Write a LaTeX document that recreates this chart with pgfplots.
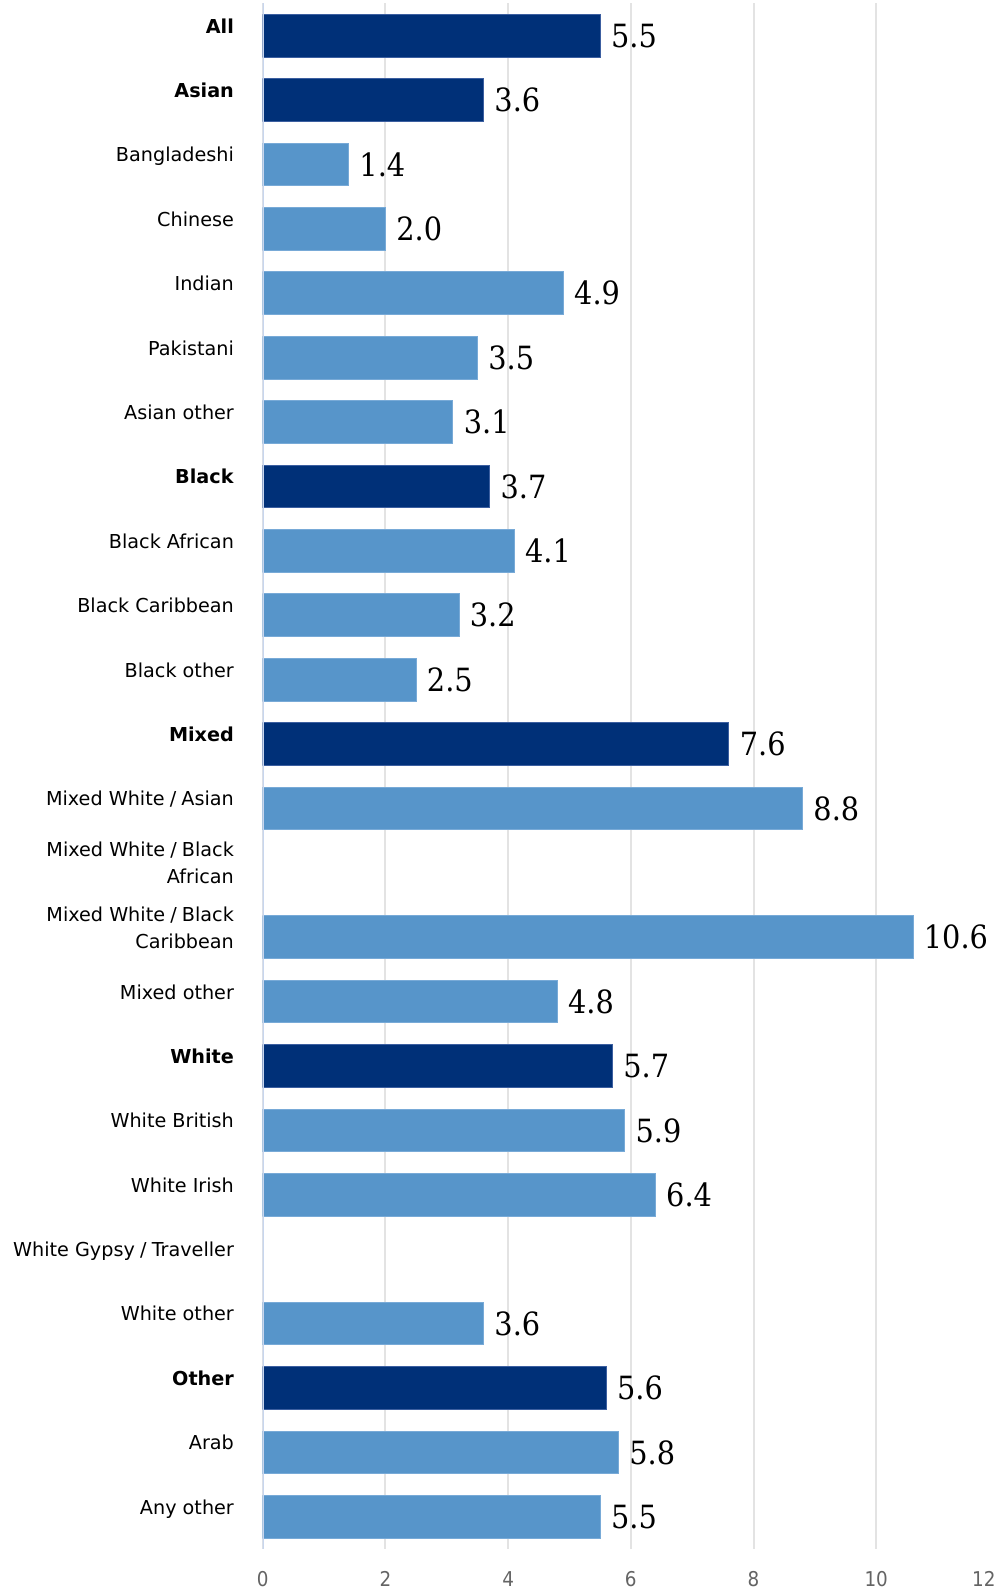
\documentclass[border=0pt]{standalone}
\usepackage{pgfplots}
\pgfplotsset{compat=1.18}
\usepackage{fontspec}
\setmainfont{DejaVu Sans}
\newfontfamily\valfont[FakeStretch=0.9]{DejaVu Serif}
\newfontfamily\tickfont[FakeStretch=0.9]{DejaVu Sans}
\definecolor{darkbar}{RGB}{0,48,120}
\definecolor{darkedge}{RGB}{60,95,160}
\definecolor{lightbar}{RGB}{87,149,202}
\definecolor{lightedge}{RGB}{120,170,215}
\definecolor{gridgray}{RGB}{227,227,227}
\definecolor{axisblue}{RGB}{200,214,238}
\definecolor{tickgray}{RGB}{100,100,100}
\newcommand{\s}{\strut}
\newcommand{\slsh}{\kern2.6pt/\kern2.6pt}
\begin{document}
\begin{tikzpicture}
\useasboundingbox (-131.35pt,-20pt) rectangle (367.15pt,774.5pt);
\begin{axis}[
  scale only axis, width=368.1pt, height=772.75pt,
  xmin=0, xmax=12, ymin=-0.5, ymax=23.5, y dir=reverse,
  xbar, bar shift=0pt, bar width=21.35pt,
  axis line style={draw=none},
  tick style={draw=none}, major tick length=0pt,
  xtick={0,2,4,6,8,10},
  extra x ticks={12},
  extra x tick style={xticklabel style={xshift=-7.5pt}},
  xmajorgrids, grid style={color=gridgray, line width=1pt},
  /pgf/number format/assume math mode=true,
  xticklabel style={font=\tickfont\fontsize{10.2}{12}\selectfont, text=tickgray, anchor=north, inner sep=0pt, yshift=-11.2pt},
  ytick={0,...,23},
  yticklabels={
    {\s\textbf{All}},
    {\s\textbf{Asian}},
    {\s Bangladeshi},
    {\s Chinese},
    {\s Indian},
    {\s Pakistani},
    {\s Asian other},
    {\s\textbf{Black}},
    {\s Black African},
    {\s Black Caribbean},
    {\s Black other},
    {\s\textbf{Mixed}},
    {\s Mixed White\slsh Asian},
    {\s Mixed White\slsh Black\\\s African},
    {\s Mixed White\slsh Black\\\s Caribbean},
    {\s Mixed other},
    {\s\textbf{White}},
    {\s White British},
    {\s White Irish},
    {\s White Gypsy\slsh Traveller},
    {\s White other},
    {\s\textbf{Other}},
    {\s Arab},
    {\s Any other}},
  yticklabel style={font=\fontsize{9.6}{13.4}\selectfont, align=right, anchor=east, inner sep=0pt, xshift=-14.2pt, yshift=4pt},
  point meta=x,
  nodes near coords={\pgfmathprintnumber[fixed,zerofill,precision=1,assume math mode=true]{\pgfplotspointmeta}},
  nodes near coords style={font=\valfont\fontsize{16}{19}\selectfont, anchor=west, inner sep=0pt, xshift=5.2pt},
]
\addplot[fill=darkbar, draw=darkedge, line width=0.5pt] coordinates {
  (5.5,0) (3.6,1) (3.7,7) (7.6,11) (5.7,16) (5.6,21)
};
\addplot[fill=lightbar, draw=lightedge, line width=0.5pt] coordinates {
  (1.4,2) (2.0,3) (4.9,4) (3.5,5) (3.1,6)
  (4.1,8) (3.2,9) (2.5,10)
  (8.8,12) (10.6,14) (4.8,15)
  (5.9,17) (6.4,18) (3.6,20)
  (5.8,22) (5.5,23)
};
\draw[axisblue, line width=1pt] (axis cs:0,-0.5) -- (axis cs:0,23.5);
\end{axis}
\end{tikzpicture}
\end{document}
